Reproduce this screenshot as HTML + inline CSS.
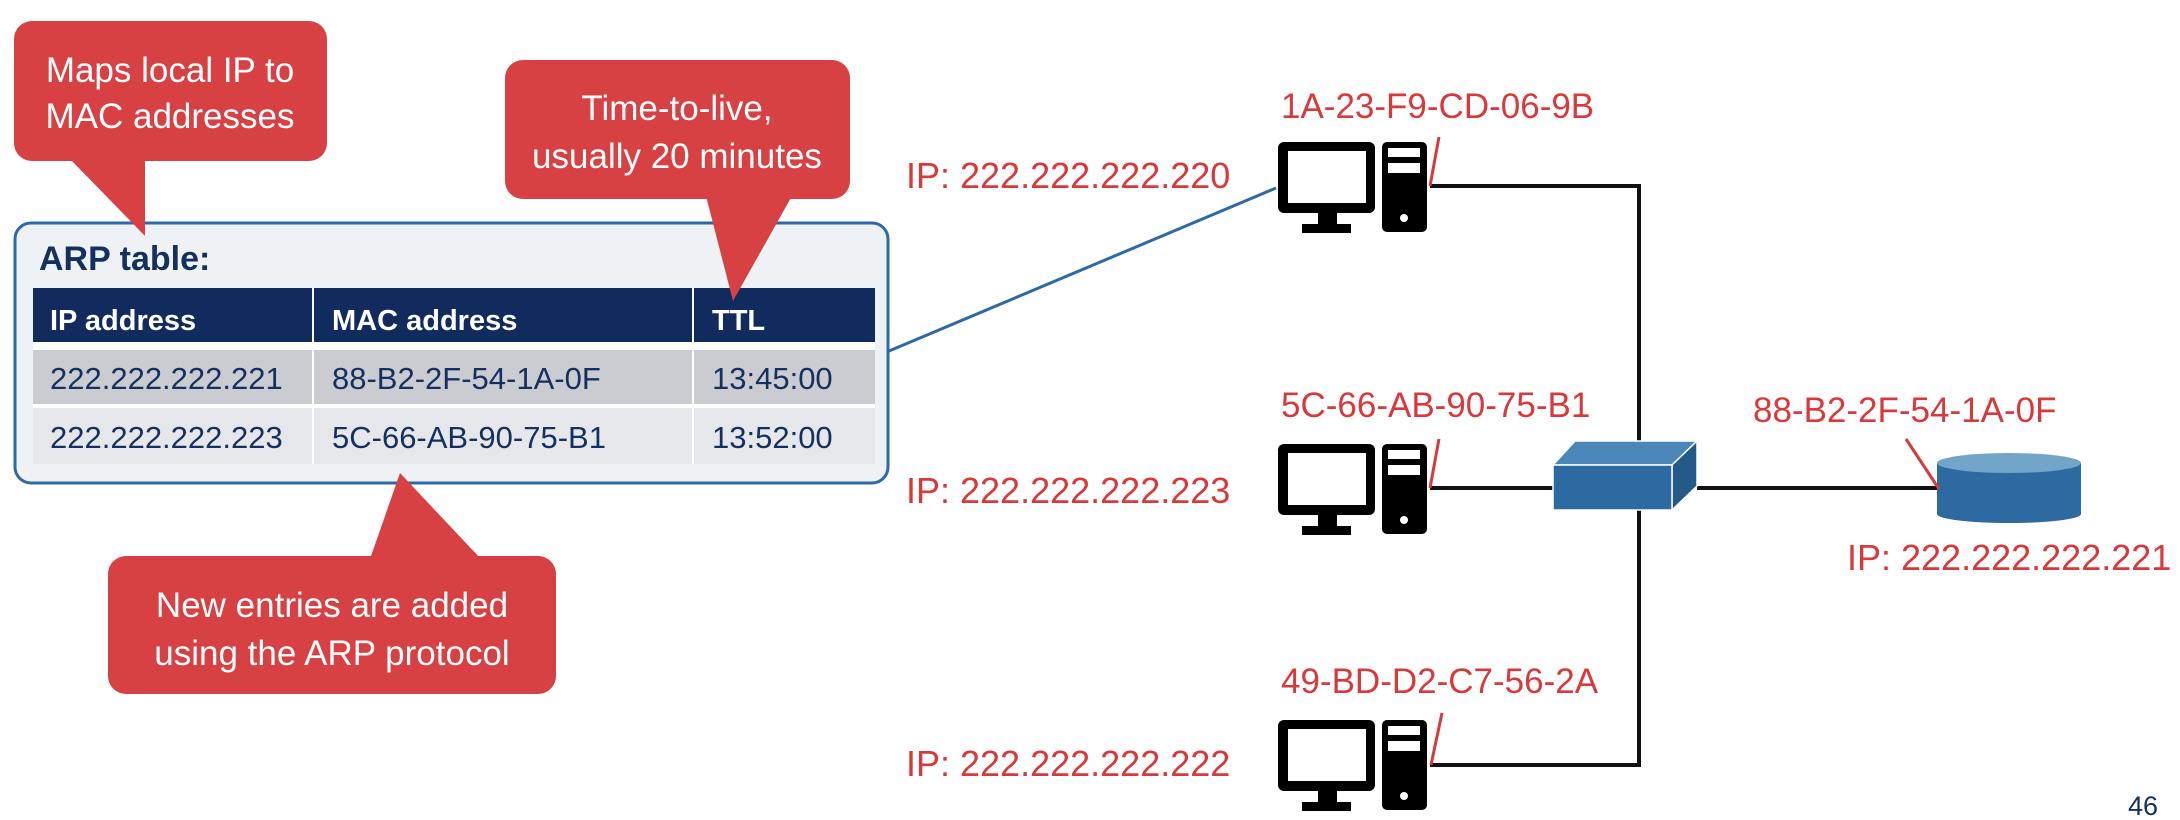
<!DOCTYPE html>
<html><head><meta charset="utf-8"><style>
html,body{margin:0;padding:0;background:#fff;}
svg{display:block;}
text{font-family:"Liberation Sans",sans-serif;}
</style></head><body>
<svg width="2180" height="820" viewBox="0 0 2180 820" xmlns="http://www.w3.org/2000/svg">
<defs>
<g id="pc">
  <rect x="1278" y="142" width="97" height="71" rx="6" fill="#000"/>
  <rect x="1288" y="151" width="78" height="52" fill="#fff"/>
  <rect x="1318" y="212" width="19" height="15" fill="#000"/>
  <rect x="1302" y="224" width="49" height="9" fill="#000"/>
  <rect x="1382" y="142" width="45" height="90" rx="5" fill="#000"/>
  <rect x="1388" y="148" width="32" height="9" fill="#fff"/>
  <rect x="1388" y="163" width="32" height="10" fill="#fff"/>
  <circle cx="1404" cy="218" r="4" fill="#fff"/>
</g>
</defs>

<rect x="15" y="223" width="873" height="260" rx="16" fill="#eef2f4" stroke="#2e6aa6" stroke-width="3"/>
<text x="39" y="270" font-size="34" font-weight="bold" fill="#14305e">ARP table:</text>
<rect x="33" y="288" width="842" height="54" fill="#112b5e"/>
<rect x="33" y="350" width="842" height="54" fill="#cbccd2"/>
<rect x="33" y="408" width="842" height="56" fill="#e6e7ea"/>
<rect x="312" y="288" width="2" height="176" fill="#fff"/>
<rect x="692" y="288" width="2" height="176" fill="#fff"/>
<rect x="33" y="404" width="842" height="4" fill="#fff"/>
<rect x="33" y="342" width="842" height="8" fill="#fff"/>
<g font-size="29" font-weight="bold" fill="#fff">
<text x="50" y="330">IP address</text><text x="332" y="330">MAC address</text><text x="712" y="330">TTL</text>
</g>
<g font-size="31" fill="#14305e">
<text x="50" y="389">222.222.222.221</text><text x="332" y="389">88-B2-2F-54-1A-0F</text><text x="712" y="389">13:45:00</text>
<text x="50" y="448">222.222.222.223</text><text x="332" y="448">5C-66-AB-90-75-B1</text><text x="712" y="448">13:52:00</text>
</g>

<g fill="#d84143">
<rect x="14" y="21" width="313" height="140" rx="18"/>
<polygon points="69,158 145,158 145,236"/>
<rect x="505" y="60" width="345" height="139" rx="18"/>
<polygon points="706,196 792,196 733,301"/>
<rect x="108" y="556" width="448" height="138" rx="18"/>
<polygon points="370,559 481,559 400,473"/>
</g>
<g font-size="35" fill="#fff" text-anchor="middle">
<text x="170" y="82">Maps local IP to</text>
<text x="170" y="128">MAC addresses</text>
<text x="677" y="120">Time-to-live,</text>
<text x="677" y="168">usually 20 minutes</text>
<text x="332" y="617">New entries are added</text>
<text x="332" y="665">using the ARP protocol</text>
</g>

<line x1="889" y1="351" x2="1276" y2="188" stroke="#2e6aa6" stroke-width="3"/>

<g stroke="#111" stroke-width="4" fill="none">
<polyline points="1430,186 1639,186 1639,442"/>
<polyline points="1639,510 1639,765 1430,765"/>
<line x1="1430" y1="488" x2="1555" y2="488"/>
<line x1="1697" y1="488" x2="1937" y2="488"/>
</g>

<use href="#pc"/>
<use href="#pc" y="302"/>
<use href="#pc" y="578"/>

<polygon points="1553,465 1575,441 1697,441 1672,465" fill="#4a86b8" stroke="#fff" stroke-width="1.5"/>
<polygon points="1672,465 1697,441 1697,486 1672,510" fill="#245a8a" stroke="#fff" stroke-width="1.5"/>
<rect x="1553" y="465" width="119" height="45" fill="#2e6aa2" stroke="#fff" stroke-width="1.5"/>

<path d="M1937,463 L1937,514 A72,9 0 0 0 2081,514 L2081,463 Z" fill="#2e6aa2"/>
<ellipse cx="2009" cy="463" rx="72" ry="10" fill="#73a5c9"/>

<g stroke="#d8393b" stroke-width="3">
<line x1="1439" y1="137" x2="1430" y2="186"/>
<line x1="1439" y1="439" x2="1430" y2="488"/>
<line x1="1442" y1="713" x2="1431" y2="765"/>
<line x1="1906" y1="439" x2="1939" y2="489"/>
</g>

<g font-size="35" fill="#d8393b">
<text x="1281" y="118">1A-23-F9-CD-06-9B</text>
<text x="1281" y="417">5C-66-AB-90-75-B1</text>
<text x="1281" y="693">49-BD-D2-C7-56-2A</text>
<text x="1753" y="422">88-B2-2F-54-1A-0F</text>
</g>
<g font-size="36" fill="#d8393b">
<text x="1847" y="570">IP: 222.222.222.221</text>
<text x="906" y="188">IP: 222.222.222.220</text>
<text x="906" y="503">IP: 222.222.222.223</text>
<text x="906" y="776">IP: 222.222.222.222</text>
</g>
<text x="2128" y="815" font-size="27" fill="#14305e">46</text>
</svg>
</body></html>
